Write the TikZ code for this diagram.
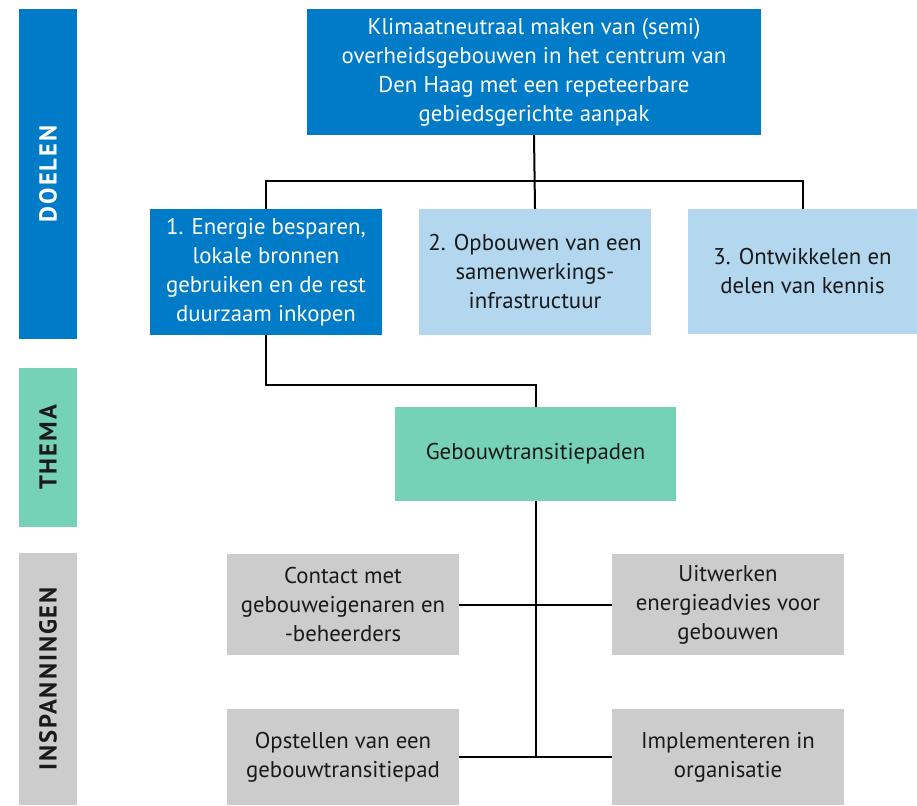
\documentclass[tikz,border=0pt]{standalone}
\usepackage{fontspec}
\setmainfont{PT Sans}
\newfontfamily\sidefont[LetterSpace=8]{PT Sans}
\definecolor{hblue}{HTML}{007BC7}
\definecolor{lblue}{HTML}{B2D7EE}
\definecolor{mint}{HTML}{76D2B6}
\definecolor{lgray}{HTML}{CCCCCC}
\definecolor{ink}{HTML}{1A1A1A}
\tikzset{
  box/.style={rectangle, inner sep=0pt, align=center, text=ink,
    font=\fontsize{22.8pt}{29pt}\selectfont},
  sidebar/.style={rectangle, inner sep=0pt, minimum width=58pt},
  sidelabel/.style={rotate=90, font=\sidefont\bfseries\fontsize{24.5pt}{28pt}\selectfont},
  conn/.style={draw=black, line width=2pt}
}
\begin{document}
\begin{tikzpicture}[x=1pt, y=-1pt]
\useasboundingbox (0,0) rectangle (917,805);
% side bars
\node[sidebar, fill=hblue, minimum height=330pt] (sd) at (48,174) {};
\node[sidelabel, text=white] (sdl) at (sd.center) {DOELEN};
\node[sidebar, fill=mint, minimum height=159pt] (st) at (48,447.5) {};
\node[sidelabel, text=ink] (stl) at (st.center) {THEMA};
\node[sidebar, fill=lgray, minimum height=252pt] (si) at (48,679) {};
\node[sidelabel, text=ink] (sil) at (si.center) {INSPANNINGEN};
% goals
\node[box, fill=hblue, text=white, minimum width=454pt, minimum height=126pt] (top) at (534,72)
  {Klimaatneutraal maken van (semi)\\overheidsgebouwen in het centrum van\\Den Haag met een repeteerbare\\gebiedsgerichte aanpak};
\node[box, fill=hblue, text=white, minimum width=232pt, minimum height=126pt] (b1) at (266,272)
  {1. Energie besparen,\\lokale bronnen\\gebruiken en de rest\\duurzaam inkopen};
\node[box, fill=lblue, minimum width=232pt, minimum height=126pt] (b2) at (535,272)
  {2. Opbouwen van een\\samenwerkings-\\infrastructuur};
\node[box, fill=lblue, minimum width=229pt, minimum height=125pt] (b3) at (802.5,271.5)
  {3. Ontwikkelen en\\delen van kennis};
% theme
\node[box, fill=mint, minimum width=281pt, minimum height=94pt] (thema) at (535.5,454)
  {Gebouwtransitiepaden};
% efforts
\node[box, fill=lgray, minimum width=232pt, minimum height=101pt] (g1) at (343,604.5)
  {Contact met\\gebouweigenaren en\\-beheerders};
\node[box, fill=lgray, minimum width=232pt, minimum height=101pt] (g2) at (728,604.5)
  {Uitwerken\\energieadvies voor\\gebouwen};
\node[box, fill=lgray, minimum width=232pt, minimum height=96pt] (g3) at (343,757)
  {Opstellen van een\\gebouwtransitiepad};
\node[box, fill=lgray, minimum width=232pt, minimum height=96pt] (g4) at (728,757)
  {Implementeren in\\organisatie};
% connectors
\draw[conn] (top.south) -- (b2.north);
\draw[conn] (b1.north) -- ++(0,-28) -| (b3.north);
\draw[conn] (b1.south) -- ++(0,50) -| (thema.north);
\draw[conn] (thema.south) -- (thema.south |- g3.east);
\draw[conn] (g1.east) -- (g2.west);
\draw[conn] (g3.east) -- (g4.west);
\end{tikzpicture}
\end{document}
